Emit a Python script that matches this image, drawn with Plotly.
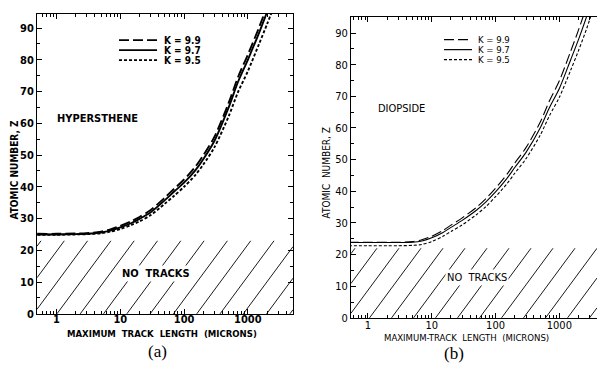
import plotly.graph_objects as go

# target picture size and the page height that the screenshot is squeezed from
PW, PH = 597, 371
W, H = 597, 379

# ---------------- data ----------------
x_a = [0.5, 1, 2, 3, 5, 7, 10, 15, 20, 30, 50, 70, 100, 150, 200, 300, 500, 700, 1000, 1500, 2000, 2500]
z_a_k99 = [25.2, 25.2, 25.3, 25.4, 25.9, 26.6, 27.7, 29.2, 30.5, 32.7, 36.6, 39.4, 42.3, 46.3, 49.9, 55.8, 66.4, 74.5, 81.6, 90.2, 96.8, 102.0]
z_a_k97 = [25.0, 25.0, 25.1, 25.2, 25.6, 26.2, 27.2, 28.6, 29.9, 32.0, 35.8, 38.5, 41.3, 45.2, 48.7, 54.5, 65.0, 73.0, 80.0, 88.5, 95.0, 100.0]
z_a_k95 = [24.9, 24.9, 25.0, 25.1, 25.4, 25.9, 26.7, 28.0, 29.1, 31.1, 34.7, 37.2, 40.0, 43.7, 47.0, 52.5, 62.2, 69.8, 76.4, 85.0, 91.2, 96.2]

x_b = [0.5, 1, 2, 3, 5, 7, 10, 15, 20, 30, 50, 70, 100, 150, 200, 300, 500, 700, 1000, 1500, 2000, 2700, 3500]
z_b_k99 = [23.9, 23.9, 23.9, 23.9, 24.1, 24.7, 25.8, 27.6, 29.3, 31.6, 34.9, 37.6, 41.0, 45.3, 48.9, 53.8, 61.8, 68.6, 74.9, 84.2, 91.0, 98.8, 106.0]
z_b_k97 = [23.8, 23.8, 23.8, 23.8, 23.9, 24.3, 25.3, 27.0, 28.6, 30.8, 34.0, 36.6, 39.8, 44.0, 47.5, 52.3, 60.0, 66.5, 72.5, 81.5, 88.0, 95.5, 103.0]
z_b_k95 = [22.8, 22.8, 22.8, 22.8, 22.9, 23.2, 24.1, 25.8, 27.3, 29.4, 32.6, 35.1, 38.3, 42.3, 45.7, 50.3, 57.7, 63.9, 69.7, 78.2, 84.5, 91.6, 98.5]

no_tracks_a = 23.0
no_tracks_b = 22.0

k_labels = ["K = 9.9", "K = 9.7", "K = 9.5"]
mineral_a = "HYPERSTHENE"
mineral_b = "DIOPSIDE"
xtick_vals = [1, 10, 100, 1000]
xtick_text = ["1", "10", "100", "1000"]
ytick_vals = list(range(0, 100, 10))
xminor_vals = [m * 10 ** e for e in range(-1, 4) for m in range(2, 10)]

# ---------------- layout geometry (target picture pixels) ----------------
PA = dict(x0=37, x1=293, y0=14, y1=313)   # left panel plot area
PB = dict(x0=351, x1=597, y0=17, y1=317)  # right panel plot area
XR_A = [-0.306, 3.708]
YR_A = [0, 94.4]
XR_B = [-0.266, 3.59]
YR_B = [0, 95.06]

FONT = "Liberation Sans Narrow, DejaVu Sans Condensed, Liberation Sans, Arial, sans-serif"


def px(xp, yp):
    return xp / PW, 1 - yp / PH


def dom_x(p):
    return [max(0.0, px(p["x0"], 0)[0]), min(1.0, px(p["x1"], 0)[0])]


def dom_y(p):
    return [px(0, p["y1"])[1], px(0, p["y0"])[1]]


styles = ["10px,4px", "solid", "3px,2px"]

fig = go.Figure()

for ys, st in zip([z_a_k99, z_a_k97, z_a_k95], styles):
    fig.add_trace(go.Scatter(x=x_a, y=ys, mode="lines", xaxis="x", yaxis="y",
                             line=dict(color="black", width=1.9, dash=st, shape="spline", smoothing=0.8),
                             showlegend=False, hoverinfo="skip"))
for ys, st in zip([z_b_k99, z_b_k97, z_b_k95], styles):
    fig.add_trace(go.Scatter(x=x_b, y=ys, mode="lines", xaxis="x2", yaxis="y2",
                             line=dict(color="black", width=1.1, dash=st, shape="spline", smoothing=0.8),
                             showlegend=False, hoverinfo="skip"))

shapes = []


def hatch(p, yr, zmax, spacing, slope=1.35):
    ybot = p["y1"]
    ytop = p["y1"] - (zmax - yr[0]) / (yr[1] - yr[0]) * (p["y1"] - p["y0"])
    hh = ybot - ytop
    run = hh / slope
    b = p["x0"] - run + 4
    while b < p["x1"]:
        xs = max(b, p["x0"])
        xe = min(b + run, p["x1"])
        if xs < xe:
            a0 = px(xs, ybot - (xs - b) * slope)
            a1 = px(xe, ybot - (xe - b) * slope)
            shapes.append(dict(type="line", xref="paper", yref="paper",
                               x0=a0[0], y0=a0[1], x1=a1[0], y1=a1[1],
                               line=dict(color="black", width=0.9), layer="below"))
        b += spacing


hatch(PA, YR_A, no_tracks_a, 23.3)
hatch(PB, YR_B, no_tracks_b, 22.0)

annotations = []


def legend(lx0, lx1, tx, rows, lw, bold, size):
    for lab, st, yy in zip(k_labels, styles, rows):
        a0 = px(lx0, yy)
        a1 = px(lx1, yy)
        shapes.append(dict(type="line", xref="paper", yref="paper",
                           x0=a0[0], y0=a0[1], x1=a1[0], y1=a1[1],
                           line=dict(color="black", width=lw, dash=st)))
        t = px(tx, yy)
        annotations.append(dict(xref="paper", yref="paper", x=t[0], y=t[1], text=lab,
                                showarrow=False, xanchor="left", yanchor="middle",
                                font=dict(family=FONT, size=size, color="black",
                                          weight="bold" if bold else "normal")))


legend(119, 157, 162, [40, 50, 60], 1.6, True, 10)
legend(444, 472, 476, [39.5, 49.5, 59.5], 1.2, False, 9.5)


def text(x, y, s, size=10, angle=0, family=FONT, bg=None, bold=False):
    t = px(x, y)
    d = dict(xref="paper", yref="paper", x=t[0], y=t[1], text=s, showarrow=False,
             xanchor="center", yanchor="middle", textangle=angle,
             font=dict(family=family, size=size, color="black",
                       weight="bold" if bold else "normal"))
    if bg:
        d["bgcolor"] = bg
        d["borderpad"] = 1
    annotations.append(d)


text(97, 118, mineral_a, 11, bold=True)
text(401, 108, mineral_b, 11)
text(156, 273, "NO&nbsp;&nbsp;TRACKS", 11, bg="white", bold=True)
text(477, 277, "NO&nbsp;&nbsp;TRACKS", 11, bg="white")
text(14, 170, "ATOMIC NUMBER, Z", 10, angle=-90, bold=True)
text(326, 173, "ATOMIC&nbsp;&nbsp;NUMBER, Z", 10, angle=-90)
text(162, 333, "MAXIMUM&nbsp;&nbsp;TRACK&nbsp;&nbsp;LENGTH&nbsp;&nbsp;(MICRONS)", 9.5, bold=True)
text(466, 337, "MAXIMUM-TRACK&nbsp;&nbsp;LENGTH&nbsp;&nbsp;(MICRONS)", 9.5)
text(157, 351, "(a)", 17, family="Liberation Serif, DejaVu Serif, serif")
text(454, 353, "(b)", 17, family="Liberation Serif, DejaVu Serif, serif")


def xaxis(dom, rng, anchor, bold, standoff):
    return dict(type="log", domain=dom, range=rng, anchor=anchor, mirror="ticks",
                tickmode="array", tickvals=xtick_vals, ticktext=xtick_text,
                ticks="inside", ticklen=5, tickcolor="black", showline=True, linecolor="black",
                linewidth=1, showgrid=False, zeroline=False, ticklabelstandoff=standoff,
                tickfont=dict(family=FONT, size=11, color="black", weight="bold" if bold else "normal"),
                minor=dict(tickmode="array", tickvals=xminor_vals, ticks="inside", ticklen=3,
                           tickcolor="black", showgrid=False))


def yaxis(dom, rng, anchor, mirror, bold):
    return dict(domain=dom, range=rng, anchor=anchor, mirror=mirror,
                tickmode="array", tickvals=ytick_vals, ticks="inside", ticklen=5,
                tickcolor="black", showline=True, linecolor="black", linewidth=1,
                showgrid=False, zeroline=False,
                tickfont=dict(family=FONT, size=11, color="black", weight="bold" if bold else "normal"),
                minor=dict(dtick=5, ticks="inside", ticklen=3, tickcolor="black", showgrid=False))


fig.update_layout(
    width=W, height=H,
    margin=dict(l=0, r=0, t=0, b=0),
    paper_bgcolor="white", plot_bgcolor="white",
    showlegend=False,
    xaxis=xaxis(dom_x(PA), XR_A, "y", True, -5),
    yaxis=yaxis(dom_y(PA), YR_A, "x", "ticks", True),
    xaxis2=xaxis(dom_x(PB), XR_B, "y2", False, -3),
    yaxis2=yaxis(dom_y(PB), YR_B, "x2", False, False),
    shapes=shapes,
    annotations=annotations,
)

fig.write_html(
    "out.html",
    config={"displayModeBar": False},
    post_script="document.body.style.margin='0';document.body.style.overflow='hidden';",
)
